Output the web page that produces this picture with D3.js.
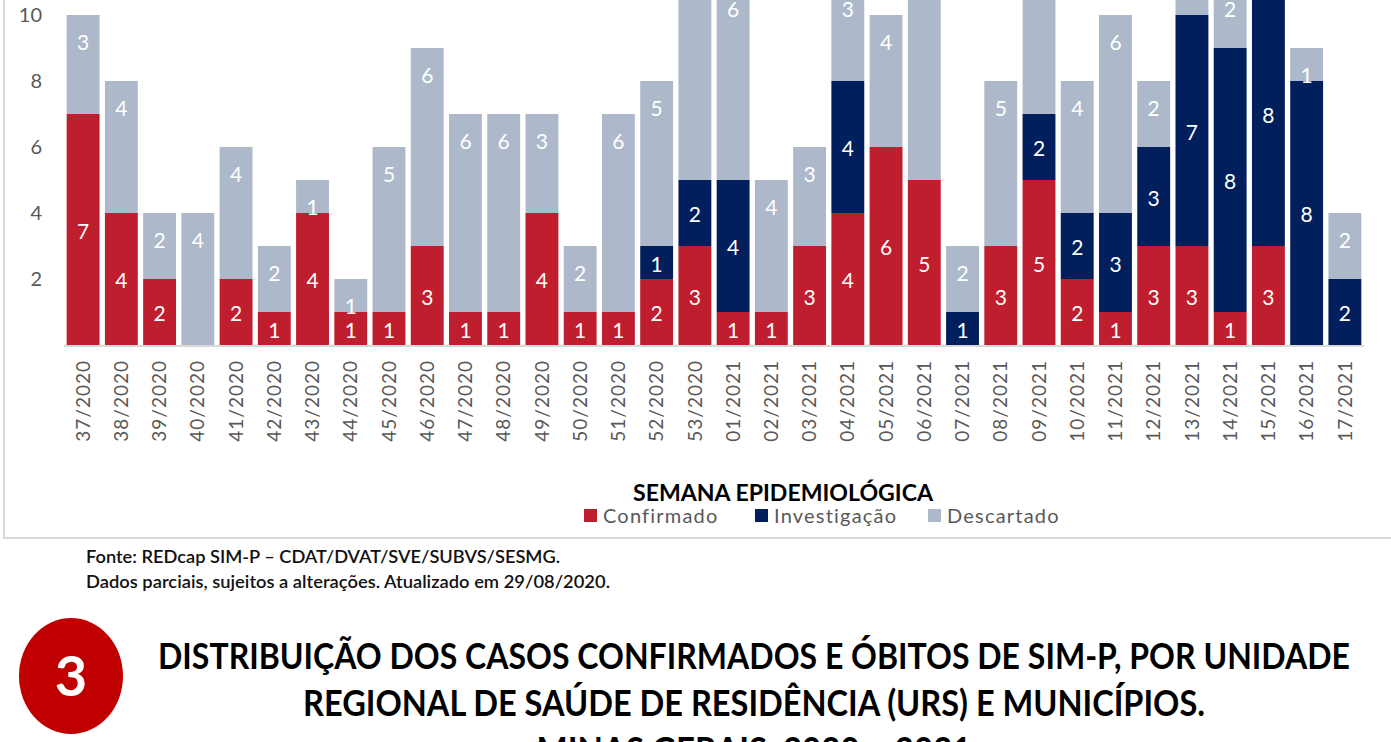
<!DOCTYPE html>
<html>
<head>
<meta charset="utf-8">
<script src="https://cdn.jsdelivr.net/npm/d3@7"></script>
<style>
  body { margin: 0; background: #fff; }
  svg { display: block; font-family: Lato, "Open Sans", sans-serif; }
</style>
</head>
<body>
<svg id="chart" width="1391" height="742"></svg>
<script>
// semanas epidemiológicas
const weeks = ['37/2020','38/2020','39/2020','40/2020','41/2020','42/2020','43/2020','44/2020','45/2020',
  '46/2020','47/2020','48/2020','49/2020','50/2020','51/2020','52/2020','53/2020',
  '01/2021','02/2021','03/2021','04/2021','05/2021','06/2021','07/2021','08/2021','09/2021',
  '10/2021','11/2021','12/2021','13/2021','14/2021','15/2021','16/2021','17/2021'];

const confirmado   = [7,4,2,0,2,1,4,1,1,3,1,1,4,1,1,2,3, 1,1,3,4,6,5,0,3,5,2,1,3,3,1,3,0,0];
const investigacao = [0,0,0,0,0,0,0,0,0,0,0,0,0,0,0,1,2, 4,0,0,4,0,0,1,0,2,2,3,3,7,8,8,8,2];
const descartado   = [3,4,2,4,4,2,1,1,5,6,6,6,3,2,6,5,7, 6,4,3,3,4,7,2,5,5,4,6,2,2,2,1,1,2];

const yTicks = [2, 4, 6, 8, 10];

const series = [
  {key: 'confirmado',   label: 'Confirmado',   color: '#BE1E2D', values: confirmado},
  {key: 'investigacao', label: 'Investigação', color: '#001F5C', values: investigacao},
  {key: 'descartado',   label: 'Descartado',   color: '#ADB9CA', values: descartado}
];

const svg = d3.select('#chart');

// chart frame (top and right run past the picture)
svg.append('rect')
  .attr('x', 4).attr('y', -20)
  .attr('width', 1420).attr('height', 558)
  .attr('fill', 'none')
  .attr('stroke', '#d9d9d9')
  .attr('stroke-width', 2);

const x = d3.scaleBand()
  .domain(weeks)
  .range([64, 1364])
  .paddingInner(0.14)
  .paddingOuter(0.07);

const y = d3.scaleLinear()
  .domain([0, 10])
  .range([345, 15]);

const rows = weeks.map((w, i) => {
  const r = {week: w};
  series.forEach(s => { r[s.key] = s.values[i]; });
  return r;
});

const stacked = d3.stack().keys(series.map(s => s.key))(rows);

const layers = svg.append('g')
  .selectAll('g')
  .data(stacked)
  .join('g')
    .attr('fill', (d, i) => series[i].color);

layers.selectAll('rect')
  .data(d => d)
  .join('rect')
    .attr('x', d => x(d.data.week))
    .attr('y', d => y(d[1]))
    .attr('width', x.bandwidth())
    .attr('height', d => y(d[0]) - y(d[1]));

// value labels: centered for the first two series, inside end for descartado
const labelY = o => o.i === 2 ? y(o.p[1]) + 28 : (y(o.p[0]) + y(o.p[1])) / 2 + 2;
layers.selectAll('text')
  .data((d, i) => d.map(p => ({p: p, i: i, v: p[1] - p[0]}))
    .filter(o => o.v > 0 && labelY(o) > -8))
  .join('text')
    .attr('x', o => x(o.p.data.week) + x.bandwidth() / 2)
    .attr('y', labelY)
    .attr('dy', '0.35em')
    .attr('text-anchor', 'middle')
    .attr('fill', '#fff')
    .attr('font-size', 21)
    .text(o => o.v);

// baseline
svg.append('line')
  .attr('x1', 64).attr('x2', 1364)
  .attr('y1', y(0) + 1).attr('y2', y(0) + 1)
  .attr('stroke', '#d9d9d9')
  .attr('stroke-width', 2);

// y axis (labels only)
const yAxis = svg.append('g')
  .attr('transform', 'translate(42,0)')
  .call(d3.axisLeft(y).tickValues(yTicks).tickSize(0).tickPadding(0));
yAxis.select('.domain').remove();
yAxis.selectAll('text')
  .attr('font-family', 'Lato, sans-serif')
  .attr('font-size', 20)
  .attr('fill', '#595959');

// x axis labels, rotated
const xAxis = svg.append('g')
  .attr('transform', 'translate(0,' + (y(0) + 15) + ')')
  .call(d3.axisBottom(x).tickSize(0).tickPadding(0));
xAxis.select('.domain').remove();
xAxis.selectAll('text')
  .attr('font-family', 'Lato, sans-serif')
  .attr('font-size', 19)
  .attr('letter-spacing', 1)
  .attr('fill', '#595959')
  .attr('transform', 'rotate(-90)')
  .attr('text-anchor', 'end')
  .attr('x', 0)
  .attr('y', 0)
  .attr('dy', '0.35em');

// axis title
svg.append('text')
  .attr('x', 783).attr('y', 501)
  .attr('text-anchor', 'middle')
  .attr('font-weight', 'bold')
  .attr('font-size', 22)
  .attr('fill', '#000')
  .attr('textLength', 300)
  .attr('lengthAdjust', 'spacingAndGlyphs')
  .text('SEMANA EPIDEMIOLÓGICA');

// legend
const legendX = [584, 755, 928];
const legend = svg.append('g')
  .selectAll('g')
  .data(series)
  .join('g')
    .attr('transform', (d, i) => 'translate(' + legendX[i] + ',509)');
legend.append('rect')
  .attr('width', 13).attr('height', 13)
  .attr('fill', d => d.color);
legend.append('text')
  .attr('x', 19).attr('y', 7)
  .attr('dy', '0.35em')
  .attr('font-size', 20)
  .attr('letter-spacing', 1.2)
  .attr('fill', '#595959')
  .text(d => d.label);

// source notes
svg.append('text')
  .attr('x', 86).attr('y', 563)
  .attr('font-size', 16.5)
  .attr('font-weight', 600)
  .attr('fill', '#111')
  .attr('textLength', 474)
  .attr('lengthAdjust', 'spacingAndGlyphs')
  .text('Fonte: REDcap  SIM-P – CDAT/DVAT/SVE/SUBVS/SESMG.');
svg.append('text')
  .attr('x', 86).attr('y', 588)
  .attr('font-size', 16.5)
  .attr('font-weight', 600)
  .attr('fill', '#111')
  .attr('textLength', 524)
  .attr('lengthAdjust', 'spacingAndGlyphs')
  .text('Dados parciais, sujeitos a alterações. Atualizado em 29/08/2020.');

// section badge
svg.append('ellipse')
  .attr('cx', 71).attr('cy', 676)
  .attr('rx', 52).attr('ry', 58)
  .attr('fill', '#C00000');
svg.append('text')
  .attr('x', 71).attr('y', 696)
  .attr('text-anchor', 'middle')
  .attr('font-weight', 'bold')
  .attr('font-size', 56)
  .attr('fill', '#fff')
  .text('3');

// section heading
const heading = [
  {t: 'DISTRIBUIÇÃO DOS CASOS CONFIRMADOS E ÓBITOS DE SIM-P, POR UNIDADE', y: 669, w: 1192},
  {t: 'REGIONAL DE SAÚDE DE RESIDÊNCIA (URS) E MUNICÍPIOS.', y: 716, w: 902},
  {t: 'MINAS GERAIS, 2020 – 2021', y: 763, w: 435}
];
svg.append('g')
  .selectAll('text')
  .data(heading)
  .join('text')
    .attr('x', 754)
    .attr('y', d => d.y)
    .attr('text-anchor', 'middle')
    .attr('font-family', '"Liberation Sans Narrow", Lato, sans-serif')
    .attr('font-weight', 'bold')
    .attr('font-size', 37)
    .attr('fill', '#000')
    .attr('textLength', d => d.w)
    .attr('lengthAdjust', 'spacingAndGlyphs')
    .text(d => d.t);
</script>
</body>
</html>
